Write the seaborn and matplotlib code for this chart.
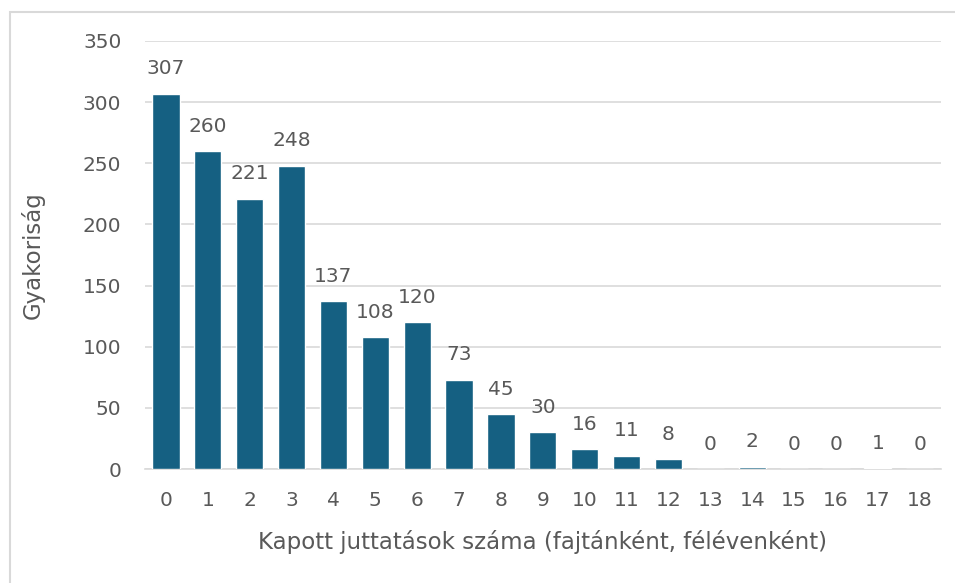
import matplotlib
matplotlib.use("Agg")
import matplotlib.pyplot as plt
import seaborn as sns
import pandas as pd
from matplotlib.patches import Rectangle

categories = [str(i) for i in range(19)]
values = [307, 260, 221, 248, 137, 108, 120, 73, 45, 30, 16, 11, 8, 0, 2, 0, 0, 1, 0]
x_label = "Kapott juttatások száma (fajtánként, félévenként)"
y_label = "Gyakoriság"

sns.set_theme(style="white")
plt.rcParams['font.family'] = ['DejaVu Sans']
txt = "#595959"
bar_color = "#156082"

df = pd.DataFrame({"cat": categories, "val": values})

fig = plt.figure(figsize=(9.55, 5.83), dpi=100)
ax = fig.add_axes([0.1518, 0.1955, 0.8332, 0.7342])
sns.barplot(data=df, x="cat", y="val", color=bar_color, saturation=1, width=0.65, ax=ax, zorder=3)

ax.set_ylim(0, 350)
ax.set_xlim(-0.5, 18.5)
ax.set_yticks(range(0, 351, 50))
ax.yaxis.grid(True, color="#d9d9d9", linewidth=1.2, zorder=0)
ax.set_axisbelow(True)
for s in ["top", "right", "left"]:
    ax.spines[s].set_visible(False)
ax.spines["bottom"].set_color("#d9d9d9")
ax.spines["bottom"].set_linewidth(1.2)
ax.tick_params(axis="both", length=0, labelsize=14.5, colors=txt)
ax.tick_params(axis="x", pad=16)
ax.tick_params(axis="y", pad=17)
ax.set_xlabel(x_label, fontsize=16.5, color=txt, labelpad=14)
ax.set_ylabel(y_label, fontsize=16.5, color=txt, labelpad=27)

for i, v in enumerate(values):
    ax.annotate(str(v), (i, v), xytext=(0, 11), textcoords="offset points",
                ha="center", va="bottom", fontsize=14.5, color=txt)

fig.patches.append(Rectangle((10/955, -0.1), 1.2, 1 - 12/583 + 0.1, transform=fig.transFigure,
                             fill=False, edgecolor="#d9d9d9", linewidth=1.5))

fig.savefig("out.png", dpi=100)
